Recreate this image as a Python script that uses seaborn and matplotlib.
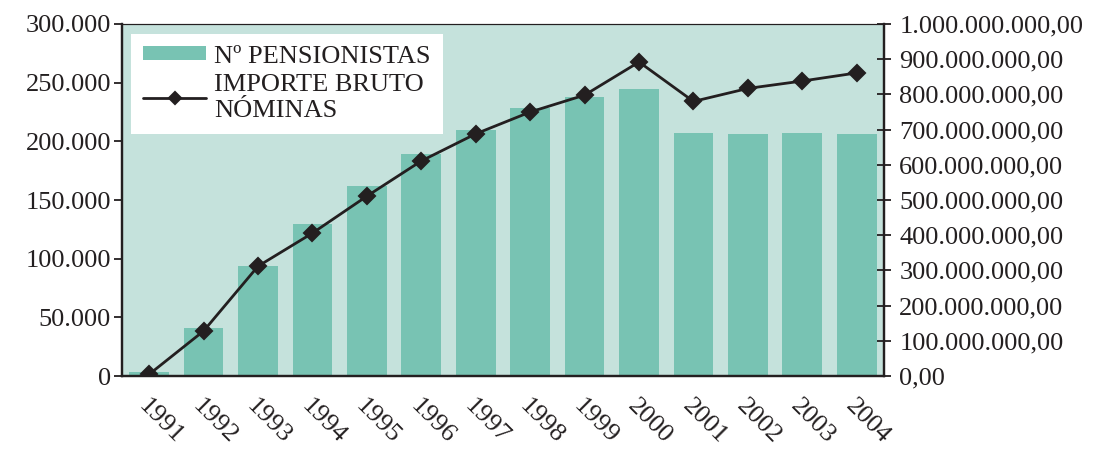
import numpy as np
import pandas as pd
import matplotlib
matplotlib.use('Agg')
import matplotlib.pyplot as plt
import seaborn as sns
from matplotlib.ticker import FuncFormatter, MultipleLocator

# Data
years = ['1991', '1992', '1993', '1994', '1995', '1996', '1997',
         '1998', '1999', '2000', '2001', '2002', '2003', '2004']
pensionistas = [3500, 41000, 94000, 129500, 162000, 189000, 210000,
                228500, 238000, 244500, 207000, 206000, 207000, 206000]
importe = [5e6, 128e6, 312e6, 406e6, 511e6, 611e6, 688e6,
           750e6, 798e6, 892e6, 780e6, 817e6, 838e6, 861e6]

bar_label = 'Nº PENSIONISTAS'
line_label = 'IMPORTE BRUTO\nNÓMINAS'

df = pd.DataFrame({'year': years, 'pens': pensionistas, 'imp': importe})

bg_color = '#c5e2dc'
bar_color = '#78c3b3'
ink = '#231f20'

sns.set_style('white')
plt.rcParams['font.family'] = ['Liberation Serif', 'DejaVu Serif']
plt.rcParams['text.color'] = ink

fig = plt.figure(figsize=(11.04, 4.5), dpi=100)
ax = fig.add_axes([0.1105, 0.1644, 0.6902, 0.7823])
ax.set_facecolor(bg_color)

sns.barplot(data=df, x='year', y='pens', ax=ax, color=bar_color,
            saturation=1, width=0.73, linewidth=0)

ax2 = ax.twinx()
sns.pointplot(data=df, x='year', y='imp', ax=ax2, color=ink,
              markers='D', markersize=8, linewidth=2)

ax.set_xlim(-0.5, len(years) - 0.5)
ax.set_ylim(0, 300000)
ax2.set_ylim(0, 1e9)
ax.set_xlabel('')
ax.set_ylabel('')
ax2.set_ylabel('')

ax.yaxis.set_major_locator(MultipleLocator(50000))
ax2.yaxis.set_major_locator(MultipleLocator(1e8))
ax.yaxis.set_major_formatter(FuncFormatter(lambda v, p: f'{int(v):,}'.replace(',', '.')))
ax2.yaxis.set_major_formatter(FuncFormatter(
    lambda v, p: f'{v:,.2f}'.replace(',', 'X').replace('.', ',').replace('X', '.')))

# ticks at category boundaries, labels at centres
ax.set_xticks(np.arange(-0.5, len(years), 1))
ax.set_xticklabels([])
ax.set_xticks(np.arange(len(years)), minor=True)
ax.set_xticklabels(years, minor=True, rotation=-45, ha='left', va='top',
                   rotation_mode='anchor', fontsize=19, color=ink)
ax.tick_params(axis='x', which='major', direction='inout', length=10, width=1.3, color=ink)
ax.tick_params(axis='x', which='minor', length=0, pad=14)
ax.tick_params(axis='y', direction='out', length=6, width=1.3, color=ink,
               labelsize=19, labelcolor=ink, pad=2)
ax2.tick_params(axis='y', direction='inout', length=10, width=1.3, color=ink,
                labelsize=19, labelcolor=ink, pad=6)
ax2.tick_params(axis='x', length=0)

for a in (ax, ax2):
    for s in a.spines.values():
        s.set_color(ink)
        s.set_linewidth(1.6)
    a.spines['top'].set_linewidth(0.8)

handles = [ax.patches[0], ax2.lines[0]]
leg = ax2.legend(handles, [bar_label, line_label], loc='upper left',
                 bbox_to_anchor=(0.012, 0.972), frameon=True, fancybox=False,
                 facecolor='white', edgecolor='none', framealpha=1,
                 fontsize=19, handlelength=2.4, handleheight=0.45,
                 handletextpad=0.3, markerscale=0.75,
                 labelspacing=0.25, borderpad=0.45, borderaxespad=0)
leg.get_frame().set_linewidth(0)
for t in leg.get_texts():
    t.set_linespacing(1.2)

fig.savefig('out.png', dpi=100)
